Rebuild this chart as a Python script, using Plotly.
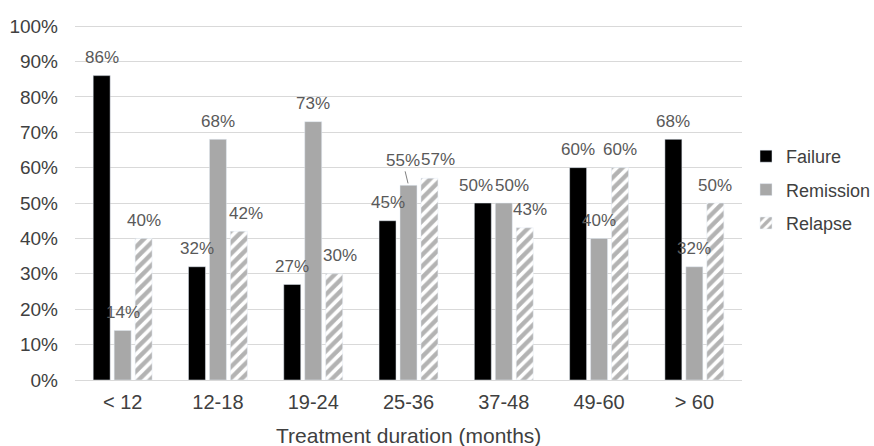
import plotly.graph_objects as go

categories = ["< 12", "12-18", "19-24", "25-36", "37-48", "49-60", "> 60"]
failure = [86, 32, 27, 45, 50, 60, 68]
remission = [14, 68, 73, 55, 50, 40, 32]
relapse = [40, 42, 30, 57, 43, 60, 50]

FONT = "Liberation Sans, Arial"
LABEL_COLOR = "#595959"
TEXT_COLOR = "#404040"

BARGAP = 0.34
GROUPGAP = 0.19
SLOT = (1 - BARGAP) / 3          # width of one bar slot, in category units
LABEL_LIFT = 18                  # px between bar top and label centre

# (series, category index) -> (dx px, dy px) nudges that keep neighbouring labels apart
label_nudge = {
    ("Relapse", 1): (7, 0),
    ("Relapse", 2): (6, 0),
    ("Relapse", 3): (9, 1),
    ("Failure", 4): (-7, 0),
    ("Remission", 4): (8, 0),
    ("Relapse", 4): (5, 0),
}

series = [
    ("Failure", failure, dict(color="#000000")),
    ("Remission", remission, dict(color="#a8a8a8")),
    ("Relapse", relapse, dict(color="#ffffff",
                              pattern=dict(shape="/", fgcolor="#686868", bgcolor="#ffffff",
                                           size=8, solidity=0.55))),
]

fig = go.Figure()
annotations = []
for k, (name, values, marker) in enumerate(series):
    fig.add_trace(go.Bar(name=name, x=categories, y=values, marker=marker,
                         legendgroup=name, hoverinfo="x+y"))
    offset = (k - 1) * SLOT
    for i, v in enumerate(values):
        if name == "Remission" and categories[i] == "25-36":
            # this label sits higher, tied to its bar by a short leader line
            annotations.append(dict(
                x=i + offset, y=v, xref="x", yref="y", text=f"{v}%",
                showarrow=True, arrowhead=0, arrowwidth=1, arrowcolor="#7f7f7f",
                ax=-6, ay=-25, standoff=2,
                font=dict(family=FONT, size=17, color=LABEL_COLOR),
            ))
            continue
        dx, dy = label_nudge.get((name, i), (0, 0))
        annotations.append(dict(
            x=i + offset, y=v, xref="x", yref="y", text=f"{v}%",
            showarrow=False, xanchor="center", yanchor="middle",
            xshift=dx, yshift=LABEL_LIFT + dy,
            font=dict(family=FONT, size=17, color=LABEL_COLOR),
        ))

# axis title placed in the bottom margin
annotations.append(dict(
    text="Treatment duration (months)", xref="paper", yref="paper",
    x=0.5, y=-0.1577, xanchor="center", yanchor="middle", showarrow=False,
    font=dict(family=FONT, size=21, color=TEXT_COLOR),
))

fig.update_layout(
    width=874, height=446,
    margin=dict(l=75, r=132, t=25, b=66, autoexpand=False),
    plot_bgcolor="#ffffff", paper_bgcolor="#ffffff",
    barmode="group", bargap=BARGAP, bargroupgap=GROUPGAP,
    font=dict(family=FONT, size=17, color=TEXT_COLOR),
    showlegend=True,
    legend=dict(xref="container", yref="container",
                x=746 / 874, y=1 - 190 / 446, xanchor="left", yanchor="middle",
                font=dict(family=FONT, size=18, color=TEXT_COLOR),
                itemwidth=30, tracegroupgap=7),
    annotations=annotations,
)
fig.update_yaxes(
    range=[0, 100.3], dtick=10, ticksuffix="%",
    showgrid=True, gridcolor="#d9d9d9", gridwidth=1,
    zeroline=True, zerolinecolor="#d9d9d9", zerolinewidth=1,
    tickfont=dict(family=FONT, size=19, color=TEXT_COLOR), ticks="", showline=False,
    ticklabelstandoff=16, automargin=False,
)
fig.update_xaxes(
    tickfont=dict(family=FONT, size=20, color=TEXT_COLOR), showline=False, ticks="",
    ticklabelstandoff=8, automargin=False,
)

fig.write_html("out.html")
